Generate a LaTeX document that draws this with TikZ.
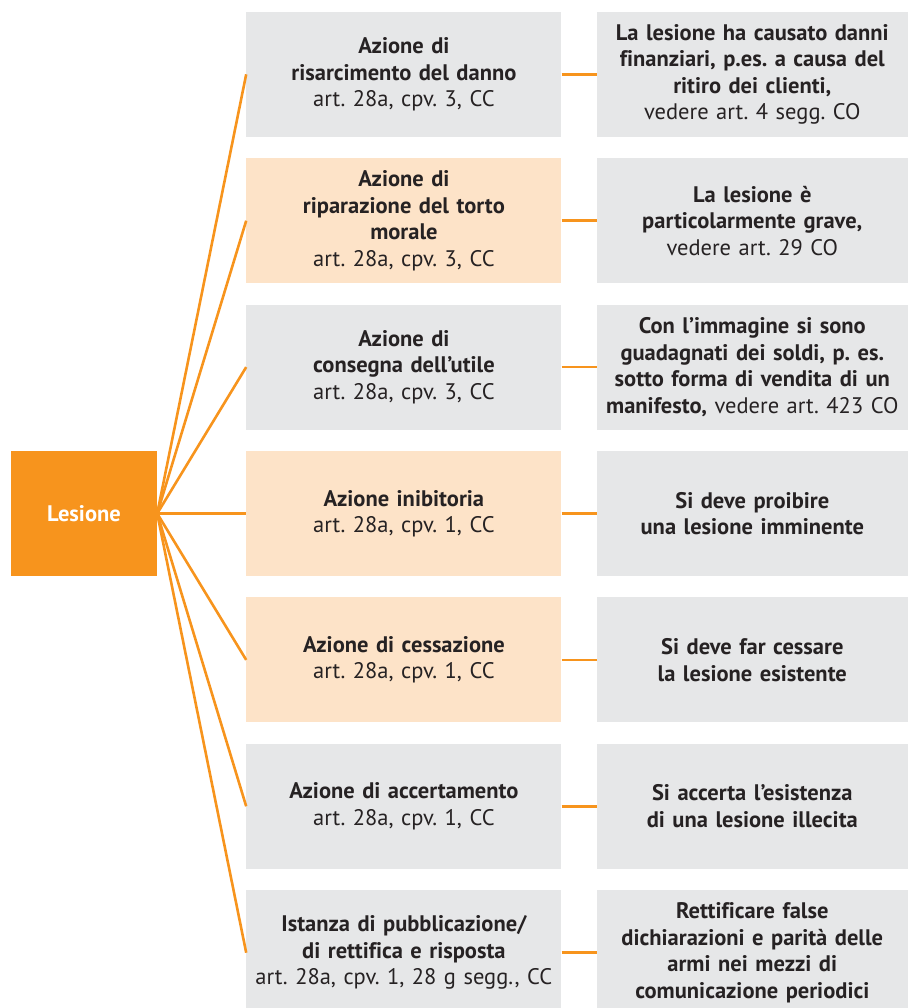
\documentclass[tikz,border=0pt]{standalone}
\usepackage{fontspec}
\setmainfont[Ligatures=CommonOff]{PT Sans}
\usetikzlibrary{positioning}
\definecolor{Arancio}{RGB}{247,148,29}
\definecolor{ArancioChiaro}{RGB}{253,227,200}
\definecolor{Grigio}{RGB}{230,231,232}
\definecolor{Testo}{RGB}{38,34,35}
\frenchspacing

\begin{document}
\begin{tikzpicture}[
  node distance=21pt and 35pt,
  base/.style={
    inner sep=0pt, align=center, text=Testo,
    font=\fontsize{22.5}{26.5}\selectfont,
    minimum height=125pt
  },
  azione/.style={base, fill=Grigio, minimum width=315pt, text width=305pt},
  azionechiara/.style={azione, fill=ArancioChiaro},
  effetto/.style={base, fill=Grigio, minimum width=311pt, text width=305pt},
  conn/.style={Arancio, line width=2.6pt}
]
\useasboundingbox (0,0) rectangle (907pt,-1008pt);

\node[base, fill=Arancio, text=white, minimum width=146pt,
  font=\bfseries\fontsize{22.5}{26.5}\selectfont]
  (lesione) at (84pt,-513.5pt) {Lesione};

% colonna delle azioni
\node[azionechiara, right=89pt of lesione] (inibitoria)
  {\textbf{Azione inibitoria}\\ art. 28a, cpv. 1, CC};
\node[azione, above=of inibitoria] (consegna)
  {\textbf{Azione di\\ consegna dell’utile}\\ art. 28a, cpv. 3, CC};
\node[azionechiara, above=of consegna] (riparazione)
  {\textbf{Azione di\\ riparazione del torto\\ morale}\\ art. 28a, cpv. 3, CC};
\node[azione, above=of riparazione] (risarcimento)
  {\textbf{Azione di\\ risarcimento del danno}\\ art. 28a, cpv. 3, CC};
\node[azionechiara, below=of inibitoria] (cessazione)
  {\textbf{Azione di cessazione}\\ art. 28a, cpv. 1, CC};
\node[azione, below=of cessazione] (accertamento)
  {\textbf{Azione di accertamento}\\ art. 28a, cpv. 1, CC};
\node[azione, below=of accertamento] (istanza)
  {\textbf{Istanza di pubblicazione/\\ di rettifica e risposta}\\
   art. 28a, cpv. 1, 28 g segg., CC};

% colonna dei presupposti
\node[effetto, right=of risarcimento] (danni)
  {\textbf{La lesione ha causato danni\\ finanziari, p.es. a causa del\\
   ritiro dei clienti,}\\ vedere art. 4 segg. CO};
\node[effetto, right=of riparazione] (grave)
  {\textbf{La lesione è\\ particolarmente grave,}\\ vedere art. 29 CO};
\node[effetto, right=of consegna] (utile)
  {\textbf{Con l’immagine si sono\\ guadagnati dei soldi, p. es.\\
   sotto forma di vendita di un\\ manifesto,} vedere art. 423 CO};
\node[effetto, right=of inibitoria] (imminente)
  {\textbf{Si deve proibire\\ una lesione imminente}};
\node[effetto, right=of cessazione] (esistente)
  {\textbf{Si deve far cessare\\ la lesione esistente}};
\node[effetto, right=of accertamento] (illecita)
  {\textbf{Si accerta l’esistenza\\ di una lesione illecita}};
\node[effetto, right=of istanza] (rettifica)
  {\textbf{Rettificare false\\ dichiarazioni e parità delle\\
   armi nei mezzi di\\ comunicazione periodici}};

\foreach \az/\ef in {risarcimento/danni, riparazione/grave, consegna/utile,
    inibitoria/imminente, cessazione/esistente, accertamento/illecita,
    istanza/rettifica} {
  \draw[conn] (lesione.east) -- (\az.west);
  \draw[conn] (\az) -- (\ef);
}
\end{tikzpicture}
\end{document}
